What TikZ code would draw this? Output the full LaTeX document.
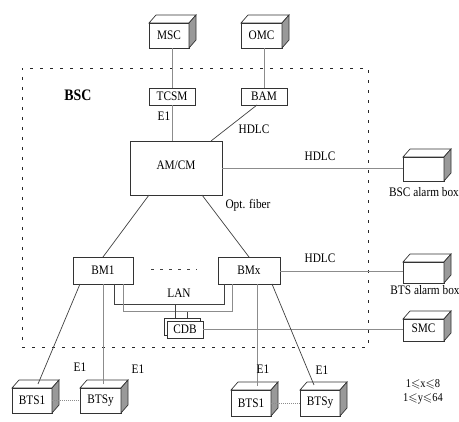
\documentclass[tikz,border=0pt]{standalone}
\usepackage{amssymb}
\usepackage{fontspec}
\setmainfont{Liberation Serif}[FakeStretch=0.87]
\usetikzlibrary{calc}
\newcommand{\cubeit}[1]{%
  \draw[boxline, fill=white] (#1.north west) -- ++(7,-8) -- ($(#1.north east)+(7,-8)$) -- (#1.north east) -- cycle;
  \draw[boxline, fill=black!40] (#1.north east) -- ++(7,-8) -- ($(#1.south east)+(7,-8)$) -- (#1.south east) -- cycle;}
\begin{document}
\begin{tikzpicture}[x=1pt,y=-1pt,
  every node/.style={font=\fontsize{13}{13}\selectfont, inner sep=0pt, outer sep=0pt},
  boxline/.style={draw=black!80, line width=0.7pt},
  box/.style={boxline, fill=white, minimum width=#1},
  dk/.style={draw=black!75, line width=0.7pt},
  lt/.style={draw=black!45, line width=0.7pt},
  small/.style={font=\fontsize{12}{12}\selectfont}]
\useasboundingbox (0,0) rectangle (459,422);
% BSC frame
\node[draw=black!85, line width=0.8pt, dash pattern=on 3pt off 7pt, minimum width=346, minimum height=279] (bsc) at (195,207.5) {};
\node[font=\bfseries\fontsize{16}{16}\selectfont] (bsclabel) at (78,95) {BSC};
% boxes
\node[box=40, minimum height=25] (msc) at (169,35.5) {MSC};
\node[box=41, minimum height=25] (omc) at (261.5,35.5) {OMC};
\node[box=46, minimum height=17] (tcsm) at (172,96.5) {TCSM};
\node[box=46, minimum height=17] (bam) at (264,96.5) {BAM};
\node[box=92, minimum height=54] (amcm) at (176,168) {\raisebox{5pt}{AM/CM}};
\node[box=41, minimum height=24] (bscab) at (423.5,169) {};
\node (bscabl) at (424,192) {BSC alarm box};
\node[box=41, minimum height=21] (btsab) at (423.5,272.5) {};
\node (btsabl) at (425,290) {BTS alarm box};
\node[box=41, minimum height=22] (smc) at (423.5,330) {\raisebox{4pt}{SMC}};
\node[box=60, minimum height=27] (bm1) at (103,270.5) {BM1};
\node[box=62, minimum height=27] (bmx) at (249,270.5) {BMx};
\node[box=36, minimum height=17] (cdbb) at (182,326.5) {};
\node[box=36, minimum height=17] (cdb) at (185,329.5) {CDB};
\node[box=40, minimum height=25] (btsa) at (32,400.5) {BTS1};
\node[box=41, minimum height=25] (btsb) at (100.5,400.5) {BTSy};
\node[box=40, minimum height=26] (btsc) at (251,403) {BTS1};
\node[box=40, minimum height=26] (btsd) at (320,403) {BTSy};
\cubeit{msc}\cubeit{omc}\cubeit{bscab}\cubeit{btsab}\cubeit{smc}
\cubeit{btsa}\cubeit{btsb}\cubeit{btsc}\cubeit{btsd}
% connectors
\draw[lt] (tcsm.north) -- (tcsm.north |- msc.south);
\draw[lt] (bam.north) -- (bam.north |- omc.south);
\draw[lt] (tcsm.south) -- (tcsm.south |- amcm.north);
\draw[dk] ($(bam.south west)+(16,0)$) -- ($(amcm.north east)+(-11,0)$);
\draw[lt] (amcm.east) -- (amcm.east -| bscab.west);
\draw[dk] ($(amcm.south west)+(19,0)$) -- (bm1.north);
\draw[dk] ($(amcm.south east)+(-20,0)$) -- (bmx.north);
\draw[lt] ($(bmx.east)+(0,1)$) -- ($(bmx.east -| btsab.west)+(0,1)$);
\draw[lt] (cdb.east) -- (cdb.east -| smc.west);
% LAN
\draw[dk] ($(bm1.south west)+(41,0)$) -- ++(0,20) -| ($(bmx.south west)+(6.3,0)$);
\draw[lt] ($(bm1.south west)+(50,0)$) -- ++(0,27.7) -| ($(bmx.south west)+(14.3,0)$);
\draw[dk] ($(cdbb.north west)+(11,0)$) -- ($(cdbb.north west)+(11,-14)$);
\draw[dk] ($(cdbb.north west)+(23.7,0)$) -- ($(cdbb.north west)+(23.7,-6.3)$);
\node (lan) at (179,293) {LAN};
\draw[dk, dash pattern=on 3pt off 6pt] ($(bm1.east)+(18,-1.5)$) -- ($(bmx.west)+(-21,-1.5)$);
% to BTS
\draw[dk] ($(bm1.south west)+(7,0)$) -- ($(btsa.north)+(6,-4)$);
\draw[lt] (bm1.south) -- ($(bm1.south |- btsb.north)+(0,-4)$);
\draw[lt] ($(bmx.south west)+(39,0)$) -- ($(btsc.north)+(6,-4)$);
\draw[dk] ($(bmx.south west)+(54,0)$) -- ($(btsd.north)+(-6,-5)$);
\draw[lt, dash pattern=on 1pt off 1pt] (btsa.east) -- (btsb.west);
\draw[lt, dash pattern=on 1pt off 1pt] (btsc.east) -- (btsd.west);
% labels
\node (e1t) at (164,116) {E1};
\node (hdlca) at (254,129) {HDLC};
\node (hdlcb) at (320,156) {HDLC};
\node (opt) at (248,205) {Opt. fiber};
\node (hdlcc) at (320,258) {HDLC};
\node (e1a) at (80,367) {E1};
\node (e1b) at (138,369) {E1};
\node (e1c) at (263,369) {E1};
\node (e1d) at (322,370) {E1};
\node[small] (rx) at (423,384) {1$\leqslant$x$\leqslant$8};
\node[small] (ry) at (423,398.5) {1$\leqslant$y$\leqslant$64};
\end{tikzpicture}
\end{document}
